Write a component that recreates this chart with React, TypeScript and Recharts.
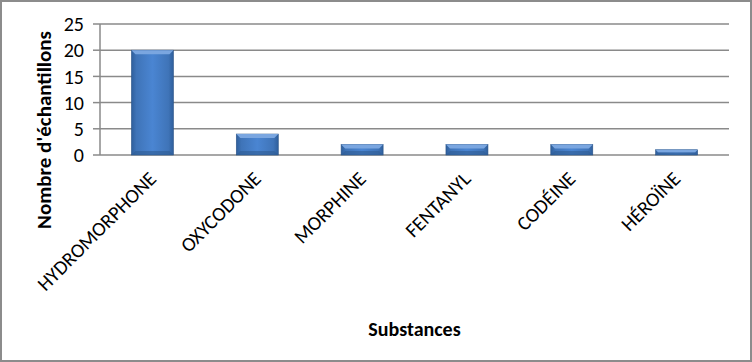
import React from 'react';
import { BarChart, Bar, XAxis, YAxis, CartesianGrid, Label } from 'recharts';

const substances = ['HYDROMORPHONE', 'OXYCODONE', 'MORPHINE', 'FENTANYL', 'CODÉINE', 'HÉROÏNE'];
const samples = [20, 4, 2, 2, 2, 1];
const yTicks = [0, 5, 10, 15, 20, 25];
const slotTicks = [0, 1, 2, 3, 4, 5, 6];

const data = substances.map((name, i) => ({ name, value: samples[i], slot: i + 0.5 }));

const font = 'Carlito, Calibri, Lato, sans-serif';

const BevelBar = (props: any) => {
  const { x, y, width, height } = props;
  if (!height || height <= 0) return null;
  const b = Math.min(4, height / 2);
  return (
    <g>
      <rect x={x} y={y} width={width} height={height} fill="url(#barFill)" stroke="#2b5487" strokeWidth={0.6} />
      <polygon
        points={`${x},${y} ${x + width},${y} ${x + width - b},${y + b} ${x + b},${y + b}`}
        fill="#7aa6e0"
      />
      <polygon
        points={`${x},${y + height} ${x + width},${y + height} ${x + width - b},${y + height - b} ${x + b},${y + height - b}`}
        fill="#2e5b93"
        opacity={0.6}
      />
    </g>
  );
};

const XTick = (props: any) => {
  const { x, y, payload } = props;
  const ax = x + 5;
  const ay = y + 17;
  return (
    <text
      x={ax}
      y={ay}
      transform={`rotate(-45 ${ax} ${ay})`}
      textAnchor="end"
      fontFamily={font}
      fontSize={20}
      fill="#000"
    >
      {payload.value}
    </text>
  );
};

export default function App() {
  return (
    <div
      style={{
        position: 'absolute',
        left: 0,
        top: 0,
        width: 752,
        height: 362,
        boxSizing: 'border-box',
        border: '2px solid #8c8c8c',
        background: '#fff',
      }}
    >
      <BarChart
        width={748}
        height={358}
        data={data}
        margin={{ top: 22, right: 21, left: 0, bottom: 0 }}
        barCategoryGap="30%"
      >
        <defs>
          <linearGradient id="barFill" x1="0" y1="0" x2="1" y2="0">
            <stop offset="0%" stopColor="#2f5f9c" />
            <stop offset="12%" stopColor="#3f74b8" />
            <stop offset="50%" stopColor="#4a85d2" />
            <stop offset="88%" stopColor="#3f74b8" />
            <stop offset="100%" stopColor="#2f5f9c" />
          </linearGradient>
        </defs>
        <CartesianGrid vertical={false} stroke="#8a8a8a" strokeWidth={1.5} />
        <XAxis
          xAxisId="slots"
          dataKey="slot"
          type="number"
          domain={[0, 6]}
          ticks={slotTicks}
          tick={false}
          height={0}
          tickSize={7}
          stroke="#8a8a8a"
          strokeWidth={1.5}
        />
        <XAxis
          dataKey="name"
          height={205}
          axisLine={false}
          tickLine={false}
          interval={0}
          tick={<XTick />}
        >
          <Label
            value="Substances"
            position="insideBottom"
            offset={24}
            style={{ fontFamily: font, fontSize: 20, fontWeight: 700, fill: '#000' }}
          />
        </XAxis>
        <YAxis
          domain={[0, 25]}
          ticks={yTicks}
          interval={0}
          width={98}
          tickSize={7}
          tickMargin={9}
          stroke="#8a8a8a"
          strokeWidth={1.5}
          tick={{ fontFamily: font, fontSize: 20, fill: '#000' }}
          label={{
            content: () => (
              <text
                x={49}
                y={128}
                transform="rotate(-90 49 128)"
                textAnchor="middle"
                fontFamily={font}
                fontSize={21}
                fontWeight={700}
                fill="#000"
              >
                Nombre d'échantillons
              </text>
            ),
          }}
        />
        <Bar dataKey="value" shape={<BevelBar />} isAnimationActive={false} />
      </BarChart>
    </div>
  );
}
